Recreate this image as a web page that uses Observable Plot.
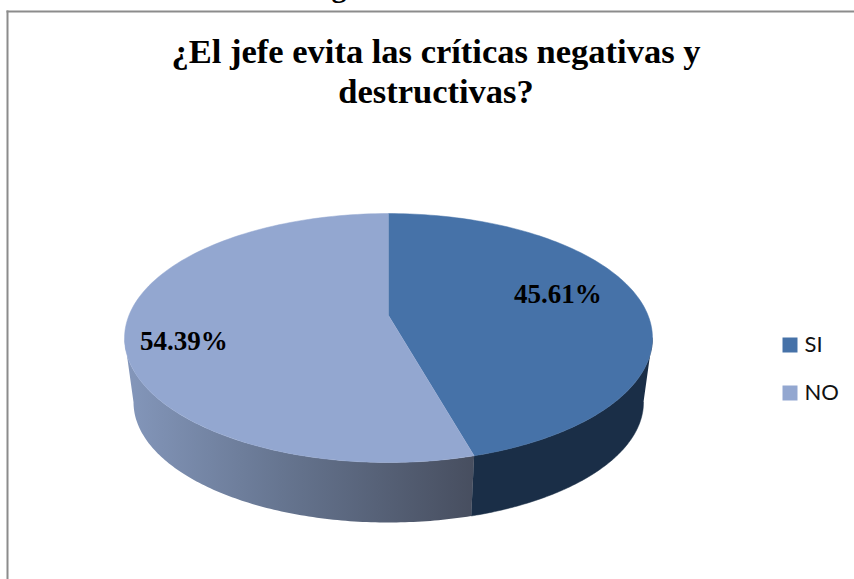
<!DOCTYPE html>
<html lang="es">
<head>
<meta charset="utf-8">
<script src="https://cdn.jsdelivr.net/npm/d3@7"></script>
<script src="https://cdn.jsdelivr.net/npm/@observablehq/plot@0.6"></script>
<style>
  html, body { margin: 0; padding: 0; background: #fff; }
  svg { display: block; }
</style>
</head>
<body>
<div id="chart"></div>
<script>
// Survey answers
const categories = ["SI", "NO"];
const shares = [45.61, 54.39];
const topColors = ["#4672a8", "#93a7d0"];

const titleText = "¿El jefe evita las críticas negativas y\ndestructivas?";
const width = 854;
const height = 579;
const frameLeft = 7;
const frameTop = 11;

// Disc geometry, in units of the disc radius; the depth scale gives the tilted view.
const radiusPx = 259.6;
const centerPx = [388, 315];
const tilt = 120.4 / radiusPx;
const perspective = 0.181;
const baseShrink = 0.966;
const baseDrop = 65 / radiusPx;

// Project an angle (clockwise from twelve o'clock) and a radial fraction onto the page units.
function project(angle, r = 1, shrink = 1, drop = 0) {
  const X = r * Math.sin(angle);
  const Y = -r * Math.cos(angle);
  const s = 1 / (1 - perspective * Y);
  return {x: shrink * X * s, y: shrink * tilt * Y * s + drop};
}

const arcs = d3.pie().sort(null).value(d => d)(shares)
  .map((a, i) => ({name: categories[i], value: shares[i], a0: a.startAngle, a1: a.endAngle}));

const steps = (a0, a1) => d3.range(0, 121).map(i => a0 + (a1 - a0) * i / 120);

// Upper face of each slice
const faces = arcs.flatMap(a => [
  {name: a.name, ...project(0, 0)},
  ...steps(a.a0, a.a1).map(t => ({name: a.name, ...project(t)}))
]);

// Visible rim runs between the two silhouette angles of the tilted disc
const rimStart = Math.acos(-perspective);
const rimEnd = 2 * Math.PI - rimStart;
function rim(a0, a1) {
  const ts = steps(a0, a1);
  return [
    ...ts.map(t => project(t)),
    ...ts.slice().reverse().map(t => project(t, 1, baseShrink, baseDrop))
  ];
}
const boundary = arcs[0].a1;
const rimSI = rim(rimStart, boundary);
const rimNO = rim(boundary, rimEnd);

// Value labels: radial placement along the middle of each slice, then a small vertical nudge
const labelPlacement = [{r: 0.67, nudge: -10.5}, {r: 0.78, nudge: 13}];
const labels = arcs.map((a, i) => {
  const p = project((a.a0 + a.a1) / 2, labelPlacement[i].r);
  return {
    text: a.value.toFixed(2) + "%",
    x: p.x,
    y: p.y + labelPlacement[i].nudge / radiusPx
  };
});

const legendRows = categories.map((name, i) => ({name, row: i}));
const legendY = 344.5 - frameTop;
const legendStep = 48;

const gradient = () => {
  const defs = document.createElementNS("http://www.w3.org/2000/svg", "defs");
  defs.innerHTML = `<linearGradient id="rimShade" x1="0" x2="1" y1="0" y2="0">
    <stop offset="0" stop-color="#8497bb"/>
    <stop offset="0.45" stop-color="#667590"/>
    <stop offset="1" stop-color="#474e5f"/>
  </linearGradient>`;
  return defs;
};

const chart = Plot.plot({
  width,
  height,
  marginLeft: frameLeft,
  marginTop: frameTop,
  marginRight: 0,
  marginBottom: 0,
  style: {background: "#fff"},
  x: {axis: null, domain: [-centerPx[0] / radiusPx, (width - centerPx[0]) / radiusPx], range: [0, width]},
  y: {axis: null, domain: [-centerPx[1] / radiusPx, (height - centerPx[1]) / radiusPx], range: [0, height]},
  color: {domain: categories, range: topColors},
  marks: [
    gradient,
    Plot.frame({anchor: "left", stroke: "#8c8c8c", strokeWidth: 2}),
    Plot.frame({anchor: "top", stroke: "#8c8c8c", strokeWidth: 2}),
    Plot.line(rimSI, {x: "x", y: "y", fill: "#1a2e47", stroke: "#1a2e47", strokeWidth: 0.5}),
    Plot.line(rimNO, {x: "x", y: "y", fill: "url(#rimShade)", stroke: "none"}),
    Plot.line(faces, {x: "x", y: "y", z: "name", fill: "name", stroke: "name", strokeWidth: 0.5}),
    Plot.text(labels, {
      x: "x", y: "y", text: "text",
      fontFamily: "Liberation Serif", fontWeight: "bold", fontSize: 27, fill: "#000"
    }),
    Plot.text([titleText], {
      frameAnchor: "top-left", dx: 435.5 - frameLeft, dy: 34 - frameTop,
      textAnchor: "middle", lineAnchor: "top", lineHeight: 1.16,
      fontFamily: "Liberation Serif", fontWeight: "bold", fontSize: 34.5, fill: "#000"
    }),
    // Descender of the heading that sits just above the chart box
    Plot.text(["g"], {
      frameAnchor: "top-left", dx: 338.5 - frameLeft, dy: -3.5 - frameTop,
      textAnchor: "middle", lineAnchor: "bottom",
      fontFamily: "Liberation Serif", fontWeight: "bold", fontSize: 30, fill: "#000"
    }),
    ...legendRows.map(d => Plot.dot([d], {
      frameAnchor: "top-left", dx: 789.5 - frameLeft, dy: legendY + d.row * legendStep,
      symbol: "square", r: 8.46, fill: "name", stroke: "none"
    })),
    ...legendRows.map(d => Plot.text([d.name], {
      frameAnchor: "top-left", dx: 804 - frameLeft, dy: legendY + d.row * legendStep,
      textAnchor: "start", lineAnchor: "middle",
      fontFamily: "Lato", fontSize: 22, fill: "#111"
    }))
  ]
});
document.getElementById("chart").append(chart);
</script>
</body>
</html>
